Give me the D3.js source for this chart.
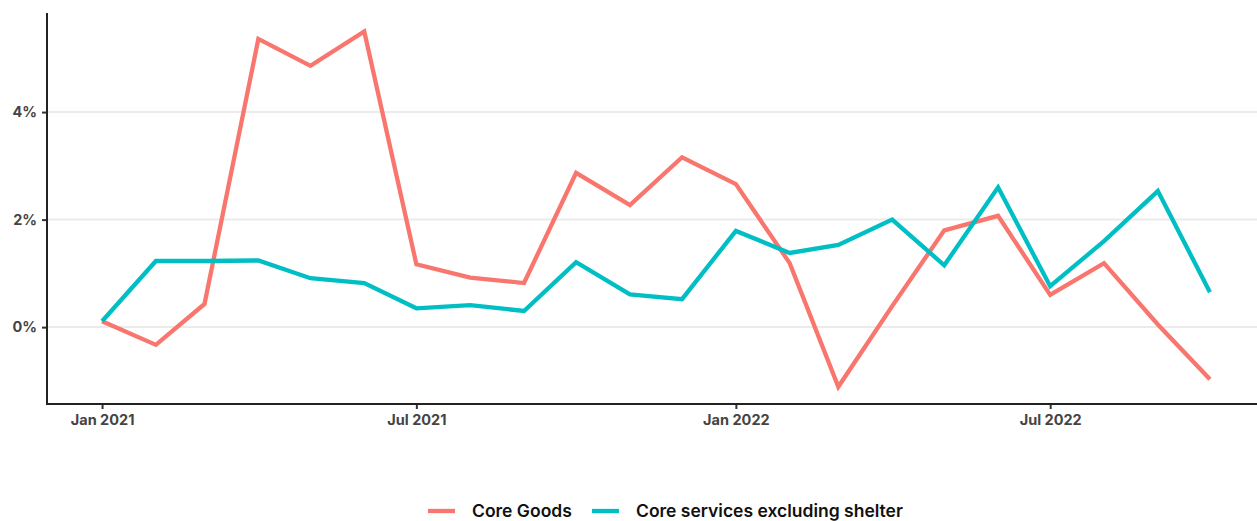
<!DOCTYPE html>
<html>
<head>
<meta charset="utf-8">
<script src="https://cdn.jsdelivr.net/npm/d3@7"></script>
<style>
  html, body { margin: 0; padding: 0; background: #fff; }
  svg { display: block; }
  text { font-family: Inter, "Noto Sans", sans-serif; }
</style>
</head>
<body>
<svg id="chart" width="1257" height="521"></svg>
<script>
const months = ["2021-01","2021-02","2021-03","2021-04","2021-05","2021-06","2021-07","2021-08","2021-09","2021-10","2021-11","2021-12",
                "2022-01","2022-02","2022-03","2022-04","2022-05","2022-06","2022-07","2022-08","2022-09","2022-10"];
const coreGoods = [0.11,-0.33,0.43,5.36,4.86,5.50,1.17,0.92,0.82,2.87,2.27,3.16,2.66,1.19,-1.11,0.39,1.80,2.07,0.60,1.19,0.05,-0.97];
const coreServicesExShelter = [0.11,1.23,1.23,1.24,0.91,0.82,0.35,0.41,0.30,1.21,0.61,0.52,1.79,1.38,1.53,2.00,1.15,2.60,0.76,1.60,2.53,0.65];
const seriesNames = ["Core Goods","Core services excluding shelter"];
const seriesColors = ["#F8766D","#00BFC4"];
const yTicks = [0,2,4];
const xTickDates = ["2021-01","2021-07","2022-01","2022-07"];

const parse = d3.utcParse("%Y-%m");
const dates = months.map(parse);
const series = [coreGoods, coreServicesExShelter];

const svg = d3.select("#chart");
const mLeft = 47, mBottom = 404, mTop = 11, mRight = 1265;

// ggplot-like 5% expansion
const t0 = dates[0].getTime(), t1 = dates[dates.length-1].getTime();
const pad = (t1 - t0) * 0.0497;
const x = d3.scaleUtc().domain([new Date(t0 - pad), new Date(t1 + pad)]).range([mLeft, mRight]);
const y = d3.scaleLinear().domain([-1.43, 5.88]).range([mBottom, mTop]);

// gridlines
svg.append("g").selectAll("line").data(yTicks).join("line")
  .attr("x1", mLeft).attr("x2", mRight)
  .attr("y1", d => y(d)).attr("y2", d => y(d))
  .attr("stroke", "#ebebeb").attr("stroke-width", 2);

// lines
const line = d3.line().x((d,i) => x(dates[i])).y(d => y(d));
series.forEach((s, k) => {
  svg.append("path").datum(s)
    .attr("fill", "none")
    .attr("stroke", seriesColors[k])
    .attr("stroke-width", 4.3)
    .attr("stroke-linejoin", "miter")
    .attr("d", line);
});

// axes
const yAxis = d3.axisLeft(y).tickValues(yTicks).tickFormat(d => d + "%").tickSize(5).tickPadding(5);
const gy = svg.append("g").attr("transform", `translate(${mLeft},0)`).call(yAxis);
const xAxis = d3.axisBottom(x).tickValues(xTickDates.map(parse)).tickFormat(d3.utcFormat("%b %Y")).tickSize(5).tickPadding(6);
const gx = svg.append("g").attr("transform", `translate(0,${mBottom})`).call(xAxis);

[gx, gy].forEach(g => {
  g.select(".domain").remove();
  g.selectAll(".tick line").attr("stroke", "#333").attr("stroke-width", 2);
  g.selectAll(".tick text").attr("fill", "#444").attr("font-size", 14.5).attr("font-weight", 700);
});

// axis lines
svg.append("line").attr("x1", mLeft).attr("x2", mLeft).attr("y1", mTop + 2).attr("y2", mBottom)
  .attr("stroke", "#222").attr("stroke-width", 2);
svg.append("line").attr("x1", mLeft - 1).attr("x2", mRight).attr("y1", mBottom).attr("y2", mBottom)
  .attr("stroke", "#222").attr("stroke-width", 2);

// legend
const legend = svg.append("g").attr("transform", "translate(428,511)");
const keyX = [0, 164];
seriesNames.forEach((n, k) => {
  const g = legend.append("g").attr("transform", `translate(${keyX[k]},0)`);
  g.append("line").attr("x1", 0).attr("x2", 27).attr("y1", 0).attr("y2", 0)
    .attr("stroke", seriesColors[k]).attr("stroke-width", 4.3);
  g.append("text").attr("x", 44).attr("y", 0).attr("dy", "0.35em")
    .attr("font-size", 17.5).attr("font-weight", 600).attr("fill", "#111").text(n);
});
</script>
</body>
</html>
